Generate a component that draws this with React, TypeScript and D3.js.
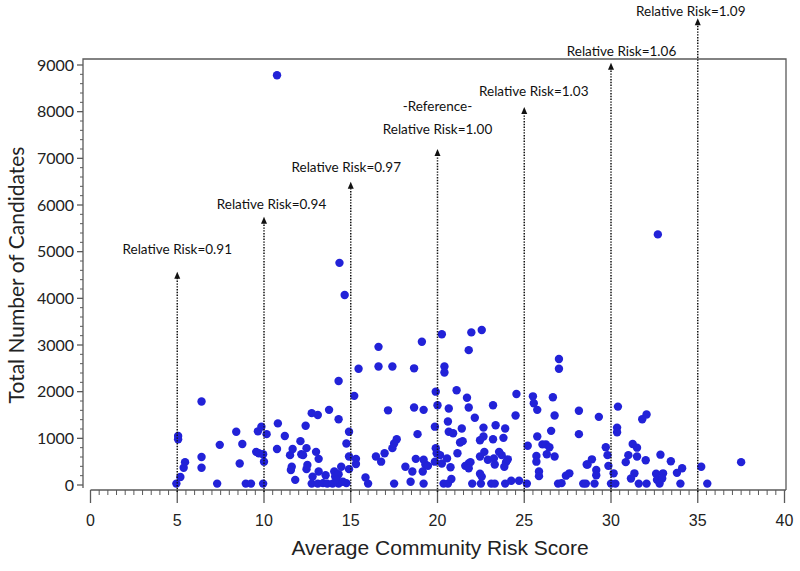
import React from "react";
import * as d3 from "d3";

// average community risk score (x) and total number of candidates (y)
const avgRiskScore = [
  4.95, 5.18, 5.05, 5.05, 5.37, 5.45, 6.4, 6.4, 6.4, 7.3, 7.45, 8.4, 8.75, 8.6, 8.95, 9.25, 9.55, 9.7, 9.65, 9.85,
  10.15, 9.95, 10.0, 9.95, 10.8, 11.2, 10.75, 11.5, 11.6, 11.55, 11.8, 11.65, 12.1, 12.15, 12.25, 12.4, 12.45, 12.45, 10.75,
  12.75, 13.1, 13.75, 14.3, 14.3, 12.5, 12.8, 12.75, 13.0, 13.15, 13.15, 13.1, 13.4, 13.55, 13.65, 14.05, 14.1, 14.3,
  14.45, 14.3, 14.75, 14.9, 14.9, 14.9, 14.75, 15.2, 15.3, 15.3, 15.45, 15.85, 16.0, 16.45, 16.75, 16.95, 16.6, 16.6,
  17.15, 17.4, 17.4, 17.65, 17.5, 17.5, 18.15, 18.45, 18.55, 18.65, 18.65, 18.75, 18.85, 19.1, 19.2, 19.2, 19.3, 19.15,
  19.2, 19.45, 19.9, 20.0, 19.85, 19.9, 19.95, 19.85, 20.25, 20.4, 20.4, 20.65, 20.6, 20.65, 20.15, 20.25, 20.35, 20.6,
  20.55, 13.95, 14.2, 14.55, 14.35, 14.65,
  21.95, 22.55, 21.8, 21.1, 21.7, 21.8, 22.15, 23.2, 24.55, 24.5, 25.5, 25.55, 25.75, 26.65, 26.75, 27.0, 27.0, 28.15,
  28.15, 20.9, 21.4, 21.3, 21.45, 21.15, 20.75, 20.8, 21.6, 21.8, 21.9, 21.8, 22.0, 22.45, 22.45, 22.55, 22.5, 22.65,
  22.65, 22.45, 22.7, 22.9, 23.2, 23.35, 23.25, 23.3, 23.1, 23.3, 23.55, 23.7, 23.9, 23.8, 24.05, 23.95, 23.85, 23.9,
  24.25, 24.7, 25.15, 25.2, 25.75, 26.05, 26.25, 26.45, 25.7, 25.7, 25.85, 25.85, 26.3, 26.75, 26.55, 26.95, 27.15,
  27.4, 27.6, 28.4, 28.55, 28.6,
  29.3, 30.4, 30.35, 30.35, 31.8, 32.05, 29.7, 29.8, 29.85, 28.9, 28.65, 29.15, 29.15, 29.05, 30.0, 30.25, 30.15, 30.85,
  31.0, 31.25, 31.5, 31.5, 32.0, 31.35, 31.15, 31.6, 32.05, 32.85, 33.45, 32.6, 32.65, 32.8, 33.0, 32.95, 33.8, 34.1,
  34.0, 35.2, 35.55, 37.5, 32.7,
];
const totalCandidates = [
  30, 170, 1050, 980, 370, 490, 1790, 600, 370, 30, 860, 1140, 880, 460, 30, 30, 710, 680, 1150, 1250,
  1090, 660, 500, 30, 1320, 1050, 770, 640, 390, 320, 110, 770, 940, 660, 640, 1270, 790, 340, 8780,
  1540, 1500, 1610, 2230, 1410, 430, 180, 30, 710, 560, 290, 30, 40, 210, 30, 290, 180, 230,
  390, 30, 890, 1140, 610, 340, 40, 1910, 560, 450, 2490, 160, 30, 610, 500, 680, 2960, 2540,
  1600, 2540, 790, 980, 890, 30, 390, 70, 290, 2500, 1660, 560, 1090, 3070, 1610, 540, 440, 290,
  30, 410, 2000, 1710, 1250, 790, 680, 500, 3230, 2540, 2410, 1640, 1360, 1140, 640, 460, 30, 30,
  570, 30, 110, 70, 4760, 4070,
  3270, 3320, 2890, 2030, 1870, 1660, 1440, 1710, 1950, 1490, 1900, 1750, 1610, 1880, 1490, 2700, 2490, 1590,
  1090, 1110, 1210, 910, 940, 680, 380, 130, 410, 460, 490, 360, 30, 610, 240, 180, 30, 1230,
  1040, 960, 710, 540, 980, 1280, 570, 440, 30, 30, 710, 640, 1210, 1010, 550, 490, 390, 30,
  90, 90, 30, 840, 1040, 870, 870, 810, 620, 500, 290, 190, 660, 610, 1160, 30, 40,
  200, 250, 30, 30, 440,
  1460, 1680, 1230, 1130, 1410, 1510, 810, 640, 410, 550, 440, 320, 210, 30, 30, 30, 250, 490,
  640, 880, 800, 610, 530, 250, 140, 30, 30, 650, 510, 240, 110, 30, 250, 140, 260, 360,
  30, 390, 30, 490, 5370,
];

// reference lines for relative risk
const arrowScores = [5, 10, 15, 20, 25, 30, 35];
const arrowTops = [4570, 5750, 6500, 7200, 8100, 9050, 10000];
const riskLabels = [
  "Relative Risk=0.91",
  "Relative Risk=0.94",
  "Relative Risk=0.97",
  "Relative Risk=1.00",
  "Relative Risk=1.03",
  "Relative Risk=1.06",
  "Relative Risk=1.09",
];
const labelLevels = [5060, 6020, 6810, 7630, 8440, 9300, 10150];
const labelShift = [0, 7.5, -4.5, 0, 9.5, 10.5, -7];

const xTicks = [0, 5, 10, 15, 20, 25, 30, 35, 40];
const yTicks = [0, 1000, 2000, 3000, 4000, 5000, 6000, 7000, 8000, 9000];

const W = 800;
const H = 571;

export default function App() {
  const x = d3.scaleLinear().domain([0, 40]).range([90.5, 784.5]);
  const y = d3.scaleLinear().domain([0, 9000]).range([485, 65]);

  const frameL = 83;
  const frameR = 786;
  const frameT = 59;
  const axisY = 490;

  const xMinor = d3.range(0, 40.01, 0.5).filter(v => Math.abs(v % 5) > 0.01);
  const yMinor = d3.range(0, 9001, 200).filter(v => v % 1000 !== 0);

  const axisColor = "#5a5a5a";
  const dot = "#2222d8";

  return (
    <svg width={W} height={H} style={{ position: "absolute", left: 0, top: 0, background: "#fff" }}>
      {/* frame */}
      <path
        d={`M${frameL},${axisY - 2} V${frameT} H${frameR} V${axisY}`}
        fill="none"
        stroke={axisColor}
        strokeWidth={1.3}
      />
      {/* x axis */}
      <line x1={x(0)} x2={frameR} y1={axisY} y2={axisY} stroke={axisColor} strokeWidth={1.3} />
      {xTicks.map(t => (
        <g key={"xt" + t}>
          <line x1={x(t)} x2={x(t)} y1={axisY} y2={axisY + 13} stroke={axisColor} strokeWidth={1.3} />
          <text
            x={x(t)}
            y={526}
            textAnchor="middle"
            fontFamily="'Liberation Sans Narrow', 'Liberation Sans', sans-serif"
            fontSize={16}
            fill="#222"
          >
            {t}
          </text>
        </g>
      ))}
      {xMinor.map(t => (
        <line key={"xm" + t} x1={x(t)} x2={x(t)} y1={axisY} y2={axisY + 5} stroke={axisColor} strokeWidth={1} />
      ))}
      {/* y axis */}
      {yTicks.map(t => (
        <g key={"yt" + t}>
          <line x1={frameL - 6} x2={frameL} y1={y(t)} y2={y(t)} stroke={axisColor} strokeWidth={1.3} />
          <text
            x={frameL - 9}
            y={y(t)}
            dy="0.35em"
            textAnchor="end"
            fontFamily="Lato, sans-serif"
            fontSize={16}
            fill="#222"
          >
            {t}
          </text>
        </g>
      ))}
      {yMinor.map(t => (
        <line key={"ym" + t} x1={frameL - 3} x2={frameL} y1={y(t)} y2={y(t)} stroke={axisColor} strokeWidth={1} />
      ))}

      {/* axis titles */}
      <text
        x={440}
        y={555}
        textAnchor="middle"
        fontFamily="'Liberation Sans Narrow', 'Liberation Sans', sans-serif"
        fontSize={21}
        fill="#222"
      >
        Average Community Risk Score
      </text>
      <text
        transform={`translate(24,${275}) rotate(-90)`}
        textAnchor="middle"
        fontFamily="Lato, sans-serif"
        fontSize={21}
        fill="#222"
      >
        Total Number of Candidates
      </text>

      {/* points */}
      {avgRiskScore.map((v, i) => (
        <circle key={"p" + i} cx={x(v)} cy={y(totalCandidates[i])} r={4.2} fill={dot} />
      ))}

      {/* relative risk arrows */}
      {arrowScores.map((s, i) => {
        const px = x(s);
        const tip = y(arrowTops[i]);
        return (
          <g key={"a" + i}>
            <line
              x1={px}
              x2={px}
              y1={axisY + 2}
              y2={tip + 5}
              stroke="#111"
              strokeWidth={1.5}
              strokeDasharray="1.4,1.4"
            />
            <path d={`M${px},${tip} L${px - 3},${tip + 7} L${px + 3},${tip + 7} Z`} fill="#111" />
            <text
              x={px + labelShift[i]}
              y={y(labelLevels[i])}
              dy="0.35em"
              textAnchor="middle"
              fontFamily="Lato, sans-serif"
              fontSize={13.5}
              fill="#111"
            >
              {riskLabels[i]}
            </text>
          </g>
        );
      })}
      <text
        x={x(20)}
        y={y(8120)}
        dy="0.35em"
        textAnchor="middle"
        fontFamily="Lato, sans-serif"
        fontSize={13.5}
        fill="#111"
      >
        -Reference-
      </text>
    </svg>
  );
}
